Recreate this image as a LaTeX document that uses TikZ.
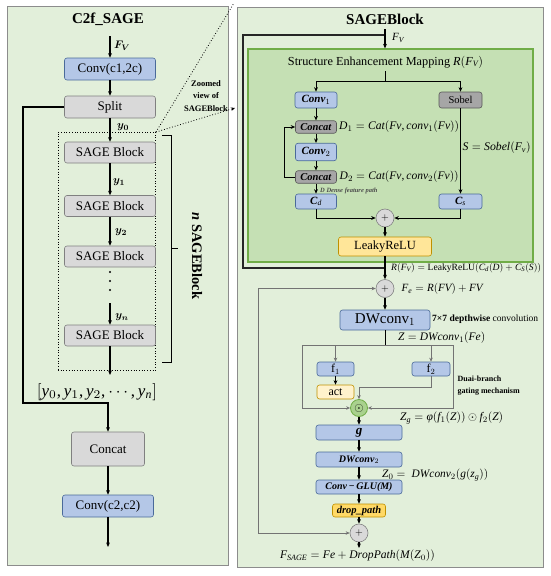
\documentclass[tikz,border=0pt]{standalone}
\usepackage{fontspec}
\setmainfont{Liberation Serif}
\newfontfamily\lsr[NFSSFamily=lsr]{Liberation Serif}
\usepackage{bm}
\usepackage{graphicx}
\DeclareSymbolFont{letters}{TU}{lsr}{m}{it}
\SetSymbolFont{letters}{bold}{TU}{lsr}{\bfdefault}{it}
\DeclareMathSymbol{,}{\mathpunct}{operators}{`,}
\DeclareMathSymbol{.}{\mathord}{operators}{`.}
\usetikzlibrary{arrows.meta,calc}
\definecolor{panelbg}{HTML}{E2EFDA}
\definecolor{panelbd}{HTML}{8C8C8C}
\definecolor{innerbg}{HTML}{C5E0B4}
\definecolor{innerbd}{HTML}{70AD47}
\definecolor{bluef}{HTML}{B4C7E7}
\definecolor{blued}{HTML}{4A6A9A}
\definecolor{grayf}{HTML}{D9D9D9}
\definecolor{grayd}{HTML}{808080}
\definecolor{dgrayf}{HTML}{A6A6A6}
\definecolor{dgrayd}{HTML}{595959}
\definecolor{yelf}{HTML}{FFE699}
\definecolor{yeld}{HTML}{BF9000}
\definecolor{dropf}{HTML}{FFD966}
\definecolor{actf}{HTML}{FFF2CC}
\definecolor{odotf}{HTML}{A9D18E}
\newcommand\fz[2]{\fontsize{#1}{#2}\selectfont}
\newcommand\fitw[2]{\resizebox{#1pt}{!}{#2}}
\newcommand\phig{\mbox{\itshape φ}}
\newcommand\bit[1]{\textbf{\textit{#1}}}
\tikzset{
  panel/.style={fill=panelbg, draw=panelbd, line width=0.8pt},
  box/.style={rounded corners=2.5pt, inner sep=0pt, line width=0.6pt, align=center},
  bluebox/.style={box, fill=bluef, draw=blued},
  graybox/.style={box, fill=grayf, draw=grayd},
  dgraybox/.style={box, fill=dgrayf, draw=dgrayd},
  yelbox/.style={box, fill=yelf, draw=yeld},
  arr/.style={-{Stealth[length=4.5pt,width=3.8pt]}, line width=1.1pt},
  gline/.style={line width=0.8pt, draw=black!55},
  garr/.style={gline, -{Stealth[length=4pt,width=3.5pt]}},
  garrb/.style={gline, {Stealth[length=4pt,width=3.5pt]}-{Stealth[length=4pt,width=3.5pt]}},
  opnode/.style={circle, fill=grayf, draw=grayd, line width=0.6pt, minimum size=18pt, inner sep=0pt},
  lab/.style={inner sep=0pt, anchor=west, font=\fz{11}{13}},
  dotn/.style={circle, fill=black, inner sep=0pt, minimum size=2.4pt},
}
\begin{document}
\begin{tikzpicture}[x=1pt,y=-1pt]
\useasboundingbox (0,0) rectangle (550,576);
% ---------------- left panel ----------------
\draw[panel] (7,6) rectangle (228,565);
\node[font=\fz{15}{18}\bfseries] (tl) at (108,19) {C2f\_SAGE};
\coordinate (fvL) at (110,36);
\node[bluebox, minimum width=91, minimum height=22, font=\fz{13}{15}] (convA) at (110,69) {Conv(c1,2c)};
\draw[arr] (fvL) -- (convA);
\node[font=\fz{11}{13}] (fvlab) at (122,46) {$\bm{F_V}$};
\node[graybox, minimum width=91, minimum height=22, font=\fz{13}{15}] (split) at (110,107) {Split};
\draw[arr] (convA) -- (split);
\node[draw, dotted, line width=0.7pt, minimum width=97.5, minimum height=238, inner sep=0pt] (dotbox) at (106.75,251) {};
\node[graybox, minimum width=91, minimum height=21, font=\fz{13}{15}] (s1) at (110,152.5) {SAGE Block};
\node[graybox, minimum width=91, minimum height=21, font=\fz{13}{15}] (s2) at (110,206) {SAGE Block};
\node[graybox, minimum width=91, minimum height=21, font=\fz{13}{15}] (s3) at (110,256.5) {SAGE Block};
\node[graybox, minimum width=91, minimum height=21, font=\fz{13}{15}] (s4) at (110,335.5) {SAGE Block};
\draw[arr] (split) -- (s1);
\draw[arr] (s1) -- (s2);
\draw[arr] (s2) -- (s3);
\node[dotn] (d1) at (110,272) {};
\node[dotn] (d2) at (110,281) {};
\node[dotn] (d3) at (110,290) {};
\coordinate (yns) at (110,303);
\draw[arr] (yns) -- (s4);
\coordinate (lstend) at (110,375);
\draw[arr] (s4) -- (lstend);
\node[font=\fz{11}{13}] (y0) at (123,127) {$\bm{y_0}$};
\node[font=\fz{11}{13}] (y1) at (119,182) {$\bm{y_1}$};
\node[font=\fz{11}{13}] (y2) at (121,232) {$\bm{y_2}$};
\node[font=\fz{11}{13}] (yn) at (122,317) {$\bm{y_n}$};
\draw[line width=1pt] (162,135) -- (171,135) -- (171,362) -- (162,362);
\draw[line width=1pt] (171,248) -- (178,248);
\node[rotate=-90, font=\fz{14.5}{17}\bfseries] (nlab) at (197,256) {\textit{n} SAGEBlock};
\node[inner sep=0pt] (list) at (97,392) {\fitw{120}{$[y_0, y_1, y_2, \cdots, y_n]$}};
\node[graybox, minimum width=73, minimum height=34, font=\fz{13}{15}] (concat) at (108,449) {Concat};
\draw[arr] (split.west) -- (23,107) -- (23,403) -| (concat.north);
\node[bluebox, minimum width=91, minimum height=22, font=\fz{13}{15}] (convB) at (108,506) {Conv(c2,c2)};
\draw[arr] (concat) -- (convB);
\coordinate (outL) at (108,547);
\draw[arr] (convB) -- (outL);
% zoom marker
\coordinate (zc) at (156,132);
\coordinate (zt) at (234,3);
\coordinate (za) at (235,108);
\draw[dotted, line width=0.8pt] (zc) -- (zt);
\draw[dotted, line width=0.8pt, -{Stealth[length=4pt,width=3.5pt]}] (zc) -- (za);
\node[font=\fz{8.5}{12.5}\bfseries, align=center] (zl) at (206,96) {Zoomed\\view of\\SAGEBlock};
% ---------------- right panel ----------------
\draw[panel] (237,7) rectangle (543,567);
\node[font=\fz{15}{18}\bfseries] (tr) at (385,19) {SAGEBlock};
\coordinate (fvR) at (385,29);
\draw[line width=1.1pt, draw=black!85] (385,35) -- (243,35) -- (243,268) -- (385,268);
\node[draw=innerbd, fill=innerbg, line width=1.2pt, minimum width=285, minimum height=213, inner sep=0pt] (inner) at (390.5,155.5) {};
\draw[arr] (fvR) -- (fvR |- inner.north);
\node[lab] (fvrl) at (392,38) {$F_V$};
\node[inner sep=0pt] (sem) at (385.5,62) {\fitw{195}{\fz{12}{14}Structure Enhancement Mapping $R(F_V)$}};
\coordinate (semb) at (385,81);
\draw[line width=1pt] (385,71) -- (semb);
\node[bluebox, minimum width=42, minimum height=16, font=\fz{11}{12}] (conv1) at (316,100) {\bit{Conv}$_1$};
\node[dgraybox, minimum width=43, minimum height=16, font=\fz{10.5}{12}] (sobel) at (460.5,100) {Sobel};
\draw[arr, line width=1pt] (semb) -| (conv1.north);
\draw[arr, line width=1pt] (semb) -| (sobel.north);
\node[dgraybox, minimum width=41, minimum height=12.5, font=\fz{10.5}{12}] (cc1) at (316,127) {\bit{Concat}};
\node[bluebox, minimum width=41, minimum height=17.5, font=\fz{11}{12}] (conv2) at (316,152) {\bit{Conv}$_2$};
\node[dgraybox, minimum width=41, minimum height=12.5, font=\fz{10.5}{12}] (cc2) at (316,177) {\bit{Concat}};
\node[bluebox, minimum width=41, minimum height=15, font=\fz{11}{12}] (cd) at (316,201.5) {\bit{C}$_d$};
\node[bluebox, minimum width=43, minimum height=15, font=\fz{11}{12}] (cs) at (460.5,201.5) {\bit{C}$_s$};
\draw[arr, line width=1pt] (conv1) -- (cc1);
\draw[arr, line width=1pt] (cc1) -- (conv2);
\draw[arr, line width=1pt] (conv2) -- (cc2);
\draw[arr, line width=1pt] (cc2) -- (cd);
\draw[arr, line width=1pt] (sobel) -- (cs);
\draw[arr, line width=1pt] (cc2.west) -- (284,177) -- (284,127) -- (cc1.west);
\node[lab] (d1l) at (339,127) {\fitw{120}{$D_1 = Cat(Fv, conv_1(Fv))$}};
\node[lab] (d2l) at (339.5,177) {\fitw{119}{$D_2 = Cat(Fv, conv_2(Fv))$}};
\node[lab, font=\fz{6.5}{8}\bfseries\itshape, text=black!70] (dense) at (320,190.5) {D Dense feature path};
\node[lab] (sl) at (462.5,148) {\fitw{68}{$S = Sobel(F_v)$}};
\node[opnode] (p1) at (385,218) {$+$};
\draw[arr, line width=1pt] (cd.south) |- (p1.west);
\draw[arr, line width=1pt] (cs.south) |- (p1.east);
\node[yelbox, minimum width=93, minimum height=19, font=\fz{12.5}{14}] (leaky) at (385,246.5) {LeakyReLU};
\draw[arr] (p1) -- (leaky);
\node[opnode] (p2) at (385,288.5) {$+$};
\draw[arr] (leaky) -- (p2);
\node[lab] (rl) at (391,268) {\fitw{150}{$R(F_V) = \mathrm{LeakyReLU}(C_d(D) + C_S(S))$}};
\node[lab] (fel) at (401.5,289) {\fitw{81}{$F_e = R(FV) + FV$}};
\node[bluebox, minimum width=90, minimum height=20, font=\fz{15}{17}] (dw1) at (385,320) {DWconv$_1$};
\draw[arr] (p2) -- (dw1);
\node[lab] (dwl) at (432,319) {\fitw{106}{\fz{8.5}{10}\textbf{7×7 depthwise} convolution}};
\node[lab] (zl2) at (398,337.5) {\fitw{87}{$Z = DWconv_1(Fe)$}};
% gating
\coordinate (gt) at (385,345);
\coordinate (gl) at (302,345);
\coordinate (gr) at (453,345);
\coordinate (g1) at (335.5,345);
\coordinate (g2) at (431,345);
\draw[line width=1pt] (dw1.south) -- (gt);
\draw[gline] (gl) -- (gr);
\node[bluebox, minimum width=37, minimum height=14, font=\fz{12}{14}] (f1) at (335.5,369) {f$_1$};
\node[bluebox, minimum width=38, minimum height=14, font=\fz{12}{14}] (f2) at (431,369) {f$_2$};
\node[box, fill=actf, draw=yeld, minimum width=37, minimum height=14, font=\fz{12}{14}] (act) at (335.5,392) {act};
\node[circle, fill=odotf, draw=innerbd, line width=0.8pt, minimum size=17pt, inner sep=0pt, font=\fz{13}{14}] (od) at (359,408) {$\odot$};
\draw[garr] (g1) -- (f1.north);
\draw[garr] (g2) -- (f2.north);
\draw[arr] (f1) -- (act);
\draw[garr] (f2.south) -- (431,387) -| (od.north);
\draw[garr] (gl) |- (od.west);
\draw[garr] (gr) |- (od.east);
\node[lab, font=\fz{8}{12}\bfseries, align=left] (dual) at (457.5,386) {Duai-branch\\gating mechanism};
\node[lab] (zgl) at (400,418) {\fitw{103}{$Z_g = \phig(f_1(Z)) \odot f_2(Z)$}};
\node[bluebox, minimum width=86, minimum height=15, font=\fz{13}{14}] (g) at (359,432.5) {\bit{g}};
\draw[arr] (od) -- (g);
\node[bluebox, minimum width=86, minimum height=15, font=\fz{10}{12}] (dw2) at (359,459.5) {\bit{DWconv}$_2$};
\draw[arr] (g) -- (dw2);
\node[lab] (z0l) at (382,475) {\fitw{106}{$Z_0 = \;DWconv_2(g(z_g))$}};
\node[bluebox, minimum width=86, minimum height=14, font=\fz{10}{12}] (glu) at (359,487) {\bit{Conv\,−\,GLU(M)}};
\draw[arr] (dw2) -- (glu);
\node[box, fill=dropf, draw=yeld, minimum width=53, minimum height=13, font=\fz{10.5}{12}] (drop) at (359,510.5) {\bit{drop\_path}};
\draw[arr] (glu) -- (drop);
\node[opnode] (p3) at (359,533) {$+$};
\draw[arr] (drop) -- (p3);
\coordinate (outR) at (359,548);
\draw[arr] (p3) -- (outR);
\draw[garrb] (p2.west) -- (258,288.5) -- (258,533) -- (p3.west);
\node[inner sep=0pt] (fsl) at (357.5,556) {\fitw{155}{$F_{SAGE} = Fe + DropPath(M(Z_0))$}};
\end{tikzpicture}
\end{document}
